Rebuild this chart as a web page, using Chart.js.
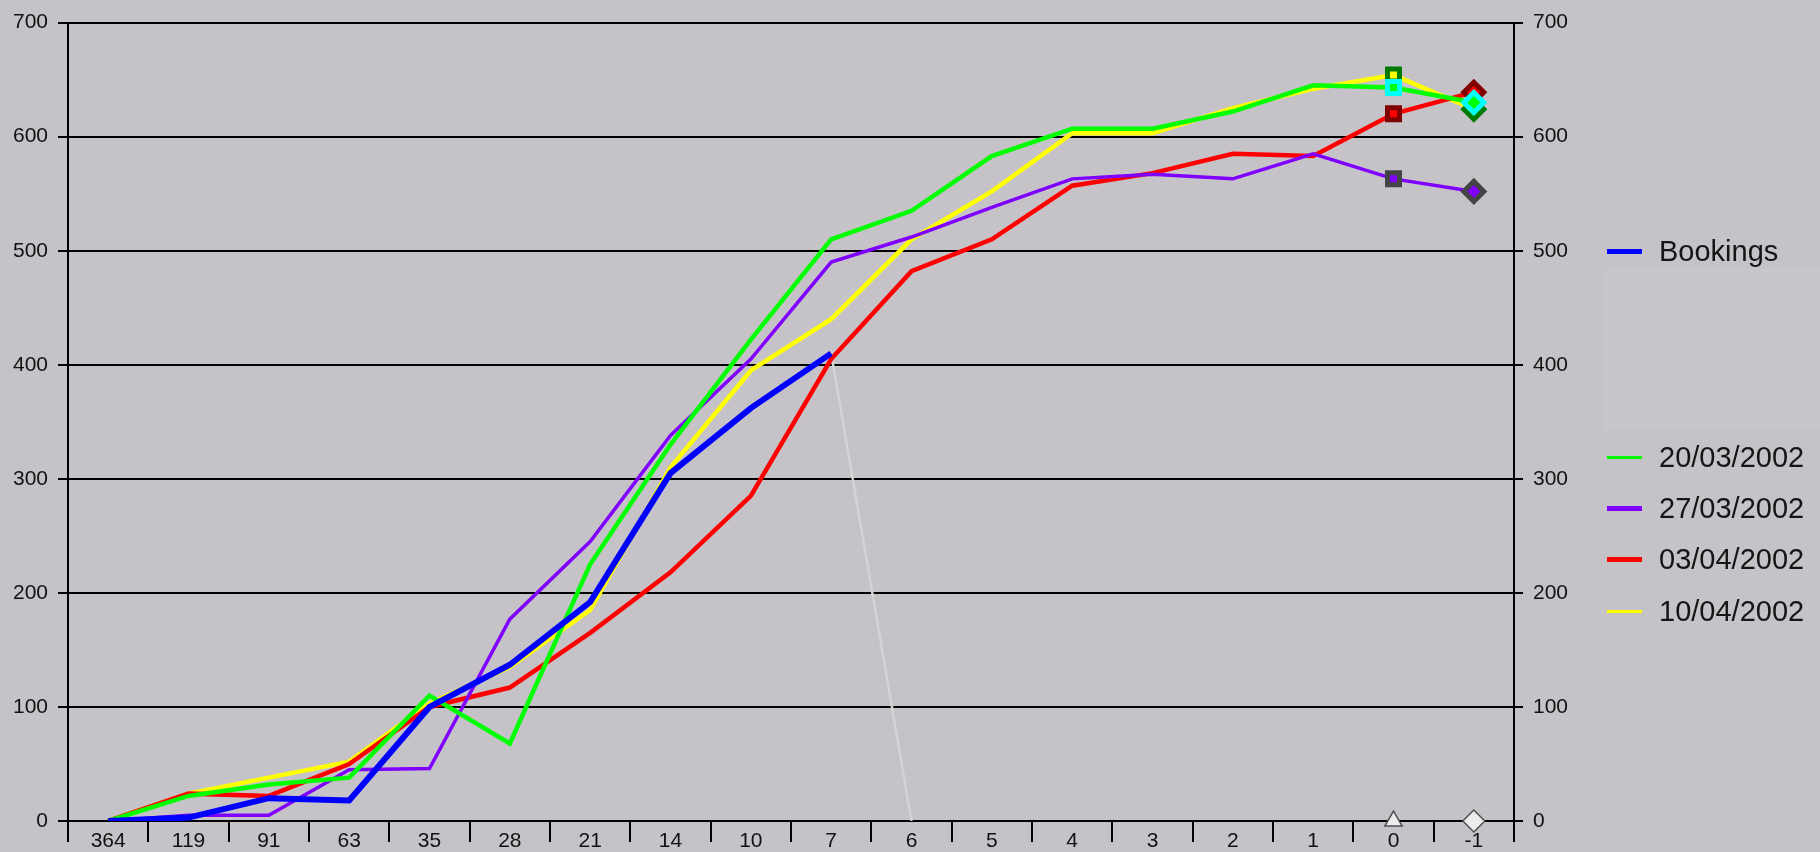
<!DOCTYPE html>
<html>
<head>
<meta charset="utf-8">
<title>Bookings</title>
<script src="https://cdn.jsdelivr.net/npm/chart.js@4.4.1/dist/chart.umd.min.js"></script>
<style>
  html, body { margin: 0; padding: 0; background: #c5c3c7; }
  #wrap { position: relative; width: 1820px; height: 852px; background: #c5c3c7; overflow: hidden; }
  #chart { position: absolute; left: 0; top: 0; }
  #blank { position: absolute; left: 1604px; top: 268px; width: 216px; height: 162px; background: #c8c6ca; }
  .item { position: absolute; left: 1607px; height: 40px; font-family: "Liberation Sans", Arial, sans-serif; font-size: 29px; color: #151515; }
  .item .sw { position: absolute; left: 0; width: 35px; }
  .item .tx { position: absolute; left: 52px; top: 0; line-height: 40px; white-space: nowrap; }
</style>
</head>
<body>
<div id="wrap">
  <canvas id="chart" width="1820" height="852"></canvas>
  <div id="blank"></div>
</div>
<script>
// days before departure
const categories = ['364', '119', '91', '63', '35', '28', '21', '14', '10', '7', '6', '5', '4', '3', '2', '1', '0', '-1'];
const yTicks = [0, 100, 200, 300, 400, 500, 600, 700];

const bookings = [0, 3, 20, 18, 100, 137, 192, 305, 362, 410, null, null, null, null, null, null, null, null];
const forecast = [null, null, null, null, null, null, null, null, null, 410, 0, null, null, null, null, null, null, null];
const mar20 = [0, 22, 32, 38, 110, 68, 225, 330, 422, 510, 535, 583, 607, 607, 622, 645, 643, 630];
const mar27 = [0, 5, 5, 45, 46, 177, 245, 338, 405, 490, 512, 538, 563, 567, 563, 585, 563, 552];
const apr03 = [0, 24, 22, 50, 100, 117, 165, 218, 285, 405, 482, 510, 557, 568, 585, 583, 620, 639];
const apr10 = [0, 24, 38, 52, 103, 135, 185, 310, 395, 440, 510, 552, 603, 603, 625, 642, 654, 624];
const baseMarks = [null, null, null, null, null, null, null, null, null, null, null, null, null, null, null, null, 0, 0];

const n = categories.length;

// squares on day 0, diamonds on day -1
function endPoints(inner, outer, shapes, sizes) {
    shapes = shapes || ['rect', 'rectRot'];
    sizes = sizes || [8.5, 10];
    return {
        pointStyle: categories.map((c, i) => i === n - 2 ? shapes[0] : (i === n - 1 ? shapes[1] : 'circle')),
        pointRadius: categories.map((c, i) => i === n - 2 ? sizes[0] : (i === n - 1 ? sizes[1] : 0)),
        pointBackgroundColor: inner,
        pointBorderColor: outer,
        pointBorderWidth: 5
    };
}

const datasets = [
    { label: 'Bookings', data: bookings, borderColor: '#0000ff', borderWidth: 6, pointRadius: 0 },
    Object.assign({ label: '20/03/2002', data: mar20, borderColor: '#00ff00', borderWidth: 4.5 }, endPoints('#00ff00', '#00ffff')),
    Object.assign({ label: '27/03/2002', data: mar27, borderColor: '#8000ff', borderWidth: 3.5 }, endPoints('#8000ff', '#444444')),
    Object.assign({ label: '03/04/2002', data: apr03, borderColor: '#ff0000', borderWidth: 4.5 }, endPoints('#ff0000', '#800000')),
    Object.assign({ label: '10/04/2002', data: apr10, borderColor: '#ffff00', borderWidth: 4.5 }, endPoints('#ffff00', '#007a00')),
    { label: '', data: forecast, borderColor: '#d4d4d4', borderWidth: 2.5, pointRadius: 0 },
    Object.assign({ label: '', data: baseMarks, showLine: false, clip: false },
        endPoints('#ececec', '#505050', ['triangle', 'rectRot'], [10, 11]), { pointBorderWidth: 1.5 })
];
datasets.forEach(d => { d.tension = 0; d.fill = false; d.spanGaps = false; });

const tickFont = { family: '"Liberation Sans", Arial, sans-serif', size: 21 };

new Chart(document.getElementById('chart').getContext('2d'), {
    type: 'line',
    data: { labels: categories, datasets: datasets },
    options: {
        responsive: false,
        animation: false,
        events: [],
        layout: { padding: { top: 21, right: 246, bottom: 0, left: 0 } },
        plugins: { legend: { display: false }, tooltip: { enabled: false } },
        scales: {
            x: {
                offset: true,
                grid: { offset: true, drawOnChartArea: false, color: '#000', lineWidth: 2, tickLength: 21 },
                border: { display: true, color: '#000', width: 2 },
                ticks: { color: '#111', font: tickFont, padding: -13, maxRotation: 0, autoSkip: false },
                afterFit: s => { s.height = 31; }
            },
            y: {
                position: 'left',
                min: 0, max: 700,
                grid: { color: '#000', lineWidth: 2, tickLength: 10 },
                border: { display: true, color: '#000', width: 2 },
                ticks: { stepSize: 100, color: '#111', font: tickFont, padding: 10 },
                afterBuildTicks: s => { s.ticks = yTicks.map(v => ({ value: v })); },
                afterFit: s => { s.width = 68; }
            },
            y2: {
                position: 'right',
                min: 0, max: 700,
                grid: { drawOnChartArea: false, color: '#000', lineWidth: 2, tickLength: 9 },
                border: { display: true, color: '#000', width: 2 },
                ticks: { stepSize: 100, color: '#111', font: tickFont, padding: 10 },
                afterBuildTicks: s => { s.ticks = yTicks.map(v => ({ value: v })); },
                afterFit: s => { s.width = 60; }
            }
        }
    }
});

// legend, with the three empty slots between Bookings and the dates
const legendRows = [
    { name: 'Bookings', color: '#0000ff', w: 5, top: 231 },
    { name: '20/03/2002', color: '#00ff00', w: 3, top: 437 },
    { name: '27/03/2002', color: '#8000ff', w: 5, top: 488 },
    { name: '03/04/2002', color: '#ff0000', w: 5, top: 539 },
    { name: '10/04/2002', color: '#ffff00', w: 3, top: 591 }
];
const wrap = document.getElementById('wrap');
legendRows.forEach(r => {
    const el = document.createElement('div');
    el.className = 'item';
    el.style.top = r.top + 'px';
    el.innerHTML = '<span class="sw"></span><span class="tx"></span>';
    const sw = el.querySelector('.sw');
    sw.style.background = r.color;
    sw.style.height = r.w + 'px';
    sw.style.top = (20 - r.w / 2) + 'px';
    el.querySelector('.tx').textContent = r.name;
    wrap.appendChild(el);
});
</script>
</body>
</html>
